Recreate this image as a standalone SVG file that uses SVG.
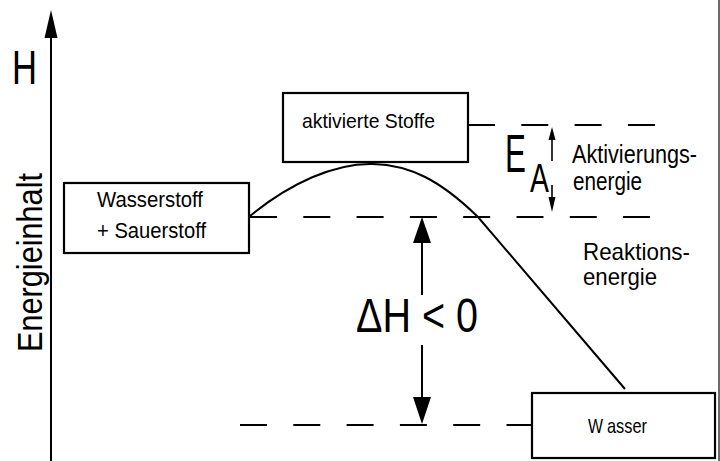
<svg xmlns="http://www.w3.org/2000/svg" width="720" height="461" viewBox="0 0 720 461">
  <style>
    text { font-family: "Liberation Sans", Arial, sans-serif; fill: #000; }
    .box { fill: #fff; stroke: #000; stroke-width: 2.2; }
    .dash { fill: none; stroke: #000; stroke-width: 2; stroke-dasharray: 27 26.3; }
    .line { fill: none; stroke: #000; stroke-width: 2; }
    .head { fill: #000; stroke: none; }
  </style>
  <rect x="0" y="0" width="720" height="461" fill="#fff"/>
  <rect x="718" y="0" width="2" height="461" fill="#6b6b6b"/>

  <g id="axis">
    <line class="line" x1="51" y1="36" x2="51" y2="461"/>
    <polygon class="head" points="51,10 44.5,38 57.5,38"/>
    <text x="12" y="84" font-size="48" textLength="25" lengthAdjust="spacingAndGlyphs">H</text>
    <text transform="translate(42,352) rotate(-90)" x="0" y="0" font-size="35" textLength="179" lengthAdjust="spacingAndGlyphs">Energieinhalt</text>
  </g>

  <g id="connectors">
    <line class="dash" x1="468" y1="125" x2="655" y2="125"/>
    <line class="dash" x1="250" y1="217" x2="650" y2="217"/>
    <line class="dash" x1="240" y1="425" x2="532" y2="425"/>
    <path class="line" d="M250,216 C290,183 335,163 373,164 C410,165 440,180 478,217 L625,389"/>
    <line class="line" x1="422" y1="241" x2="422" y2="295"/>
    <polygon class="head" points="422,217 413,243 431,243"/>
    <line class="line" x1="422" y1="345" x2="422" y2="399"/>
    <polygon class="head" points="413,397 431,397 422,424"/>
    <line stroke="#000" stroke-width="1.6" x1="552" y1="137" x2="552" y2="161"/>
    <polygon class="head" points="552,127 548.5,140 555.5,140"/>
    <line stroke="#000" stroke-width="1.6" x1="552" y1="185" x2="552" y2="199"/>
    <polygon class="head" points="548.5,197 555.5,197 552,212"/>
  </g>

  <g id="node-wasserstoff">
    <rect class="box" x="64" y="183" width="185" height="70"/>
    <text x="97" y="207" font-size="22" textLength="106" lengthAdjust="spacingAndGlyphs">Wasserstoff</text>
    <text x="97" y="238" font-size="22" textLength="109" lengthAdjust="spacingAndGlyphs">+ Sauerstoff</text>
  </g>

  <g id="node-aktiviert">
    <rect class="box" x="283" y="93" width="185" height="69"/>
    <text x="302" y="128" font-size="21" textLength="133" lengthAdjust="spacingAndGlyphs">aktivierte Stoffe</text>
  </g>

  <g id="node-wasser">
    <rect class="box" x="532" y="393" width="183" height="65"/>
    <text y="433" font-size="21"><tspan x="588" textLength="15" lengthAdjust="spacingAndGlyphs">W</tspan><tspan x="607" textLength="40" lengthAdjust="spacingAndGlyphs">asser</tspan></text>
  </g>

  <g id="label-ea">
    <text transform="translate(505,172) scale(0.58,1)" font-size="54">E</text>
    <text transform="translate(530,192) scale(0.71,1)" font-size="40">A</text>
    <text x="572" y="163" font-size="25" textLength="125" lengthAdjust="spacingAndGlyphs">Aktivierungs-</text>
    <text x="573" y="190" font-size="25" textLength="69" lengthAdjust="spacingAndGlyphs">energie</text>
  </g>

  <g id="label-reaktion">
    <text x="583" y="260" font-size="24" textLength="107" lengthAdjust="spacingAndGlyphs">Reaktions-</text>
    <text x="583" y="285" font-size="24" textLength="74" lengthAdjust="spacingAndGlyphs">energie</text>
    <text x="356" y="332" font-size="48" textLength="122" lengthAdjust="spacingAndGlyphs">ΔH &lt; 0</text>
  </g>
</svg>
